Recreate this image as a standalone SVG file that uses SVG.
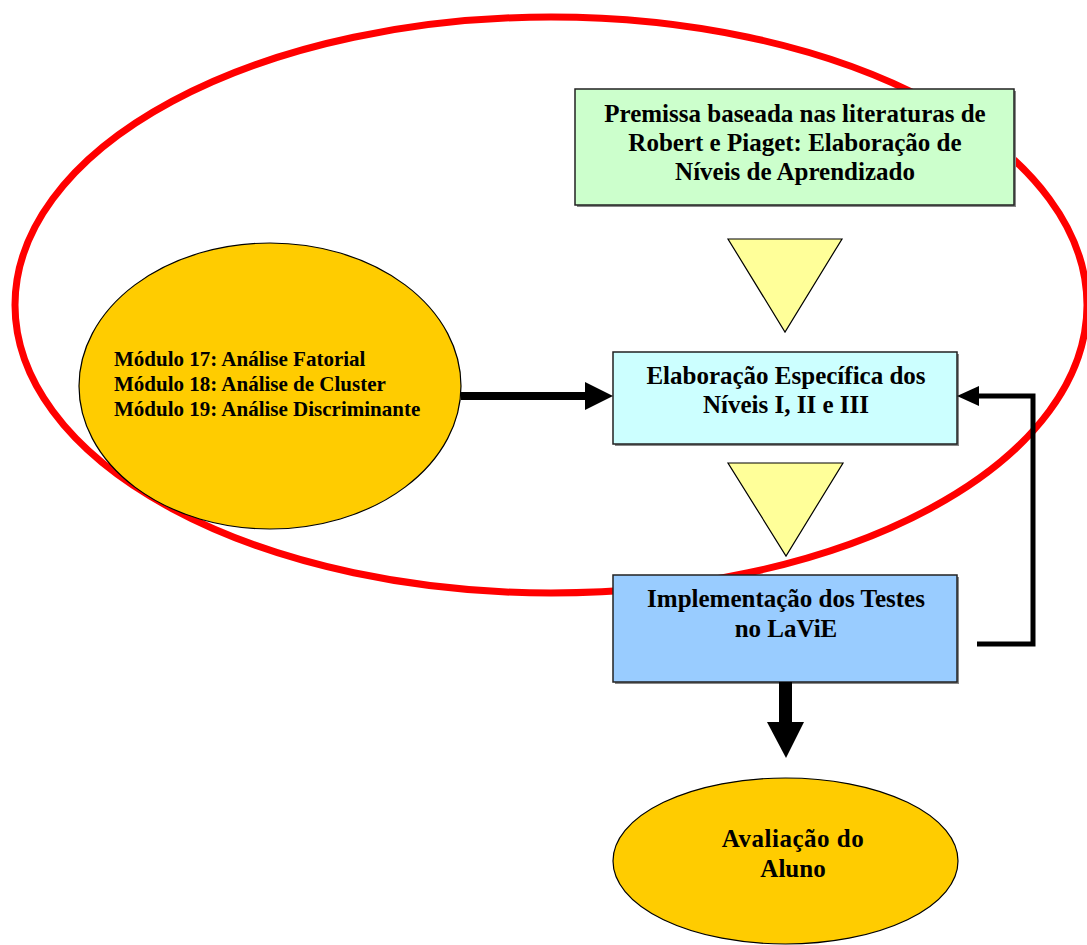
<svg xmlns="http://www.w3.org/2000/svg" width="1087" height="945" viewBox="0 0 1087 945">
  <style>
    .lbl { font-family: "Liberation Serif", "Times New Roman", serif; font-weight: bold; fill: #000; }
    .big { font-size: 25px; text-anchor: middle; }
    .small { font-size: 21px; }
    .box { stroke: #222; stroke-width: 1.5; }
    .shadow { fill: #888; }
    .tri { fill: #FFFF99; stroke: #000; stroke-width: 1.2; stroke-linejoin: miter; }
    .oval { fill: #FFCC00; stroke: #000; stroke-width: 1.2; }
    .wire { fill: none; stroke: #000; }
    .head { fill: #000; }
  </style>
  <rect width="1087" height="945" fill="#fff"/>

  <!-- red boundary around the planning stage -->
  <g id="scope">
    <ellipse cx="551" cy="305" rx="536" ry="288" fill="none" stroke="#FF0000" stroke-width="7"/>
  </g>

  <!-- source modules -->
  <g id="modules">
    <ellipse class="oval" cx="270" cy="386" rx="191" ry="143"/>
    <text class="lbl small" x="114" y="366">Módulo 17: Análise Fatorial</text>
    <text class="lbl small" x="114" y="391">Módulo 18: Análise de Cluster</text>
    <text class="lbl small" x="114" y="416">Módulo 19: Análise Discriminante</text>
  </g>

  <g id="premissa">
    <rect class="shadow" x="577" y="91" width="439" height="116"/>
    <rect class="box" x="575" y="89" width="439" height="116" fill="#CCFFCC"/>
    <text class="lbl big" x="795" y="122">Premissa baseada nas literaturas de</text>
    <text class="lbl big" x="795" y="151">Robert e Piaget: Elaboração de</text>
    <text class="lbl big" x="795" y="180">Níveis de Aprendizado</text>
  </g>

  <g id="step1">
    <polygon class="tri" points="728,239 842,239 785,332"/>
  </g>

  <g id="elaboracao">
    <rect class="shadow" x="615" y="354" width="344" height="92"/>
    <rect class="box" x="613" y="352" width="344" height="92" fill="#CCFFFF"/>
    <text class="lbl big" x="786" y="384">Elaboração Específica dos</text>
    <text class="lbl big" x="786" y="413">Níveis I, II e III</text>
  </g>

  <g id="step2">
    <polygon class="tri" points="728,463 843,463 786,556"/>
  </g>

  <g id="implementacao">
    <rect class="shadow" x="615" y="577" width="344" height="107"/>
    <rect class="box" x="613" y="575" width="344" height="107" fill="#99CCFF"/>
    <text class="lbl big" x="786" y="607">Implementação dos Testes</text>
    <text class="lbl big" x="786" y="637">no LaViE</text>
  </g>

  <g id="avaliacao">
    <ellipse class="oval" cx="785.5" cy="861" rx="172.5" ry="83"/>
    <text class="lbl big" x="793" y="847" letter-spacing="0.5">Avaliação do</text>
    <text class="lbl big" x="793" y="877">Aluno</text>
  </g>

  <g id="connectors">
    <!-- modules feed the level design -->
    <line class="wire" x1="461" y1="396" x2="587" y2="396" stroke-width="8"/>
    <polygon class="head" points="613,396 585,382 585,410"/>
    <!-- feedback from the tests back to the level design -->
    <path class="wire" d="M977,644 H1033 V396 H976" stroke-width="5"/>
    <polygon class="head" points="957,396 979,386 979,406"/>
    <!-- tests lead to the student assessment -->
    <rect class="head" x="779" y="682" width="13" height="41"/>
    <polygon class="head" points="767,722 804,722 786,758"/>
  </g>
</svg>
